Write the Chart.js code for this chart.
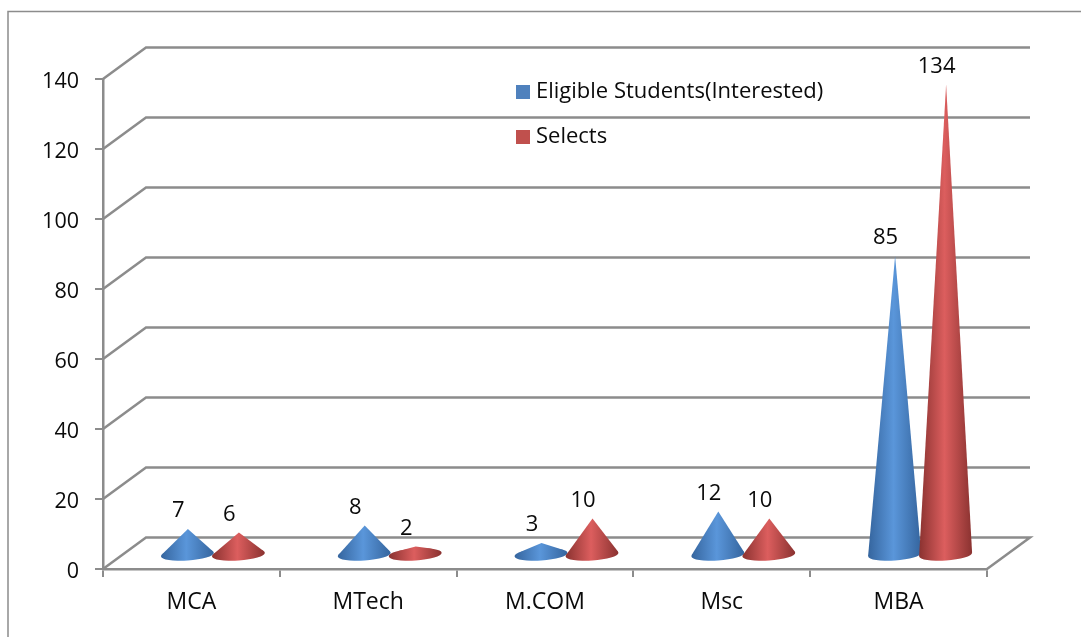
<!DOCTYPE html>
<html>
<head>
<meta charset="utf-8">
<style>html,body{margin:0;padding:0;background:#fff;overflow:hidden}canvas{display:block}</style>
<script src="https://cdn.jsdelivr.net/npm/chart.js@4"></script>
</head>
<body>
<canvas id="c" width="1081" height="637" style="width:1081px;height:637px"></canvas>
<script>
const categories = ['MCA', 'MTech', 'M.COM', 'Msc', 'MBA'];
const eligible = [7, 8, 3, 12, 85];
const selects = [6, 2, 10, 10, 134];
const yTicks = [0, 20, 40, 60, 80, 100, 120, 140];

const FONT = '"Open Sans", sans-serif';
const TEXT = '#0a0a0a';
const GRAY = '#8c8c8c';
const DX = 43, DY = 31.5;          // depth of the 3D box
const MIDX = 21.5, MIDY = 15.5;    // cones stand at mid depth
const shades = [
  {key:'#4f81bd', edge:'#35659e', light:'#5a96da'},
  {key:'#c0504d', edge:'#8a3230', light:'#dc5e5e'}
];

function legendSwatch(color){
  const k = document.createElement('canvas');
  k.width = 20; k.height = 14;
  const g = k.getContext('2d');
  g.fillStyle = color;
  g.fillRect(6, 0, 14, 14);
  return k;
}

const threeD = {
  id:'threeD',
  beforeDraw(chart){
    const c = chart.ctx;
    c.save();
    c.fillStyle = '#fff';
    c.fillRect(0,0,chart.width,chart.height);
    c.strokeStyle = GRAY; c.lineWidth = 1.5;
    c.beginPath(); c.moveTo(8,chart.height); c.lineTo(8,11.5); c.lineTo(chart.width,11.5); c.stroke();
    c.restore();
  },
  beforeDatasetsDraw(chart){
    const c = chart.ctx, y = chart.scales.y, a = chart.chartArea;
    c.save();
    c.strokeStyle = GRAY; c.lineWidth = 2.5; c.lineJoin = 'miter';
    yTicks.forEach(t => {
      const p = y.getPixelForValue(t);
      c.beginPath();
      c.moveTo(a.left, p);
      c.lineTo(a.left + DX, p - DY);
      c.lineTo(a.right + DX, p - DY);
      if (t === 0) c.lineTo(a.right, p);
      c.stroke();
    });
    c.restore();
  },
  afterDatasetsDraw(chart){
    const c = chart.ctx, y = chart.scales.y;
    const baseY = y.getPixelForValue(0) - MIDY + 1;
    chart.data.datasets.forEach((ds, di) => {
      const s = shades[di];
      chart.getDatasetMeta(di).data.forEach(el => {
        const cx = el.x + MIDX, tipY = el.y - MIDY, rx = 26.5, ry = 6, tilt = -0.065;
        const g = c.createLinearGradient(cx - rx, 0, cx + rx, 0);
        g.addColorStop(0, s.edge);
        g.addColorStop(0.48, s.light);
        g.addColorStop(1, s.edge);
        c.save();
        c.fillStyle = g;
        c.beginPath();
        c.ellipse(cx, baseY, rx, ry, tilt, 0, Math.PI*2);
        c.fill();
        const h = Math.max(baseY - tipY, ry + 0.01);
        const ty = ry*ry/h, tx = rx*Math.sqrt(1 - (ry/h)*(ry/h));
        c.beginPath();
        c.moveTo(cx + 0.5, tipY);
        c.lineTo(cx - tx, baseY - ty + tx*0.065);
        c.lineTo(cx + tx, baseY - ty - tx*0.065);
        c.closePath();
        c.fill();
        c.restore();
      });
    });
    c.save();
    c.fillStyle = TEXT;
    c.font = '22px ' + FONT;
    c.textAlign = 'center'; c.textBaseline = 'middle';
    chart.data.datasets.forEach((ds, di) => {
      chart.getDatasetMeta(di).data.forEach((el, i) => {
        c.fillText(String(ds.data[i]), el.x + MIDX - 9, el.y - MIDY - 18);
      });
    });
    c.restore();
  },
  afterLayout(chart){
    const l = chart.legend;
    if (!l) return;
    const w = l.width, h = l.height;
    l.left = 492; l.top = 58; l.right = l.left + w; l.bottom = l.top + h;
  }
};

new Chart(document.getElementById('c'), {
  type:'bar',
  data:{
    labels:categories,
    datasets:[
      {label:'Eligible Students(Interested)', data:eligible, backgroundColor:'rgba(0,0,0,0)', borderWidth:0, categoryPercentage:0.577, barPercentage:1},
      {label:'Selects', data:selects, backgroundColor:'rgba(0,0,0,0)', borderWidth:0, categoryPercentage:0.577, barPercentage:1}
    ]
  },
  plugins:[threeD],
  options:{
    responsive:false,
    animation:false,
    devicePixelRatio:1,
    layout:{padding:{left:0,right:94,top:79,bottom:0}},
    plugins:{
      tooltip:{enabled:false},
      title:{display:false},
      legend:{
        display:true,
        position:'chartArea',
        align:'start',
        labels:{
          usePointStyle:true,
          pointStyleWidth:10,
          padding:23,
          color:TEXT,
          font:{family:FONT,size:22},
          generateLabels(chart){
            return chart.data.datasets.map((d,i)=>({
              text:d.label, datasetIndex:i, hidden:false,
              fontColor:TEXT, lineWidth:0, strokeStyle:'rgba(0,0,0,0)',
              fillStyle:shades[i].key,
              pointStyle:legendSwatch(shades[i].key)
            }));
          }
        }
      }
    },
    scales:{
      x:{
        afterFit(s){s.height = 68;},
        grid:{drawOnChartArea:false,drawTicks:true,tickLength:8,color:GRAY,lineWidth:2},
        border:{display:true,color:GRAY,width:2.5},
        ticks:{color:TEXT,font:{family:FONT,size:23},padding:12,maxRotation:0}
      },
      y:{
        min:0,max:140,
        afterFit(s){
          s.width = 103;
          if (!s._shifted){
            const orig = s._computeLabelItems;
            s._computeLabelItems = function(area){
              return orig.call(this, area).map(it => { it.options.translation[1] += 2.5; return it; });
            };
            s._shifted = true;
          }
        },
        afterBuildTicks(s){s.ticks = yTicks.map(v=>({value:v}));},
        grid:{drawOnChartArea:false,drawTicks:true,tickLength:8,color:GRAY,lineWidth:2},
        border:{display:true,color:GRAY,width:2.5},
        ticks:{color:TEXT,font:{family:FONT,size:21.5},padding:16}
      }
    }
  }
});
</script>
</body>
</html>
